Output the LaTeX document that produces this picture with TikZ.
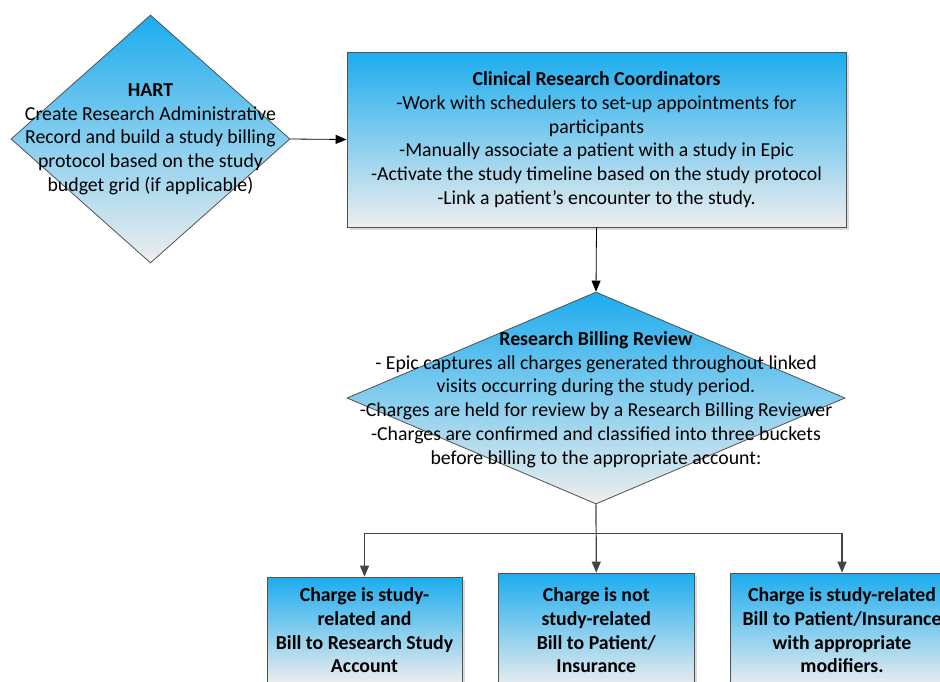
\documentclass[tikz,border=0pt]{standalone}
\usepackage{fontspec}
\setmainfont{Carlito}
\usetikzlibrary{arrows.meta,positioning,shapes.geometric,shadows}

\definecolor{topblue}{RGB}{28,172,238}
\definecolor{lowgray}{RGB}{238,238,238}
\definecolor{edgegray}{RGB}{80,80,80}
\definecolor{linegray}{RGB}{68,68,68}
\newcommand{\txtsize}{\fontsize{19.8}{23.7}\selectfont}

\begin{document}
\begin{tikzpicture}[
  x=1pt, y=-1pt,
  grad/.style={top color=topblue, bottom color=lowgray, draw=edgegray, line width=0.8pt},
  box/.style={grad, rectangle, align=center, inner sep=2pt, font=\txtsize, drop shadow={shadow xshift=2.5pt, shadow yshift=-2.5pt, fill=black!14, opacity=1}},
  dia/.style={grad, diamond, inner sep=0pt},
  txt/.style={align=center, font=\txtsize, inner sep=0pt},
  arr/.style={-{Triangle[length=11pt,width=9pt]}, line width=0.8pt},
  arrg/.style={arr, draw=linegray, line width=1.2pt}
]
\useasboundingbox (0,0) rectangle (940,681);
\clip (0,0) rectangle (940,681);
\fill[white] (0,0) rectangle (940,681);

\node[dia, minimum width=279pt, minimum height=248pt] (hart) at (150.5,139) {};
\node[txt] (hartlbl) at (hart) {\textbf{HART}\\Create Research Administrative\\Record and build a study billing\\protocol based on the study\\budget grid (if applicable)};

\node[box, minimum width=499pt, minimum height=175pt] (crc) at (596.5,139.5) {\textbf{Clinical Research Coordinators}\\-Work with schedulers to set-up appointments for\\participants\\-Manually associate a patient with a study in Epic\\-Activate the study timeline based on the study protocol\\-Link a patient’s encounter to the study.};

\node[dia, minimum width=498pt, minimum height=212pt] (rbr) at (596,398) {};
\node[txt] (rbrlbl) at (596,399.5) {\textbf{Research Billing Review}\\- Epic captures all charges generated throughout linked\\visits occurring during the study period.\\-Charges are held for review by a Research Billing Reviewer\\-Charges are confirmed and classified into three buckets\\before billing to the appropriate account:};

\node[box, font=\txtsize\bfseries, minimum width=195pt, minimum height=107pt] (study) at (364.5,630.5) {Charge is study-\\related and\\Bill to Research Study\\Account};
\node[box, font=\txtsize\bfseries, minimum width=196pt, minimum height=115pt] (notstudy) at (596.3,630.5) {Charge is not\\study-related\\Bill to Patient/\\Insurance};
\node[box, font=\txtsize\bfseries, minimum width=224pt, minimum height=115pt] (modif) at (842,630.5) {Charge is study-related\\Bill to Patient/Insurance\\with appropriate\\modifiers.};

\coordinate (split) at (596,533.7);

\draw[arr] (hart.east) -- (crc.west);
\draw[arr] (crc.south) -- (rbr.north);
\draw[arrg] (rbr.south) -- (notstudy.north);
\draw[arrg] (split) -| (study.north);
\draw[arrg] (split) -| (modif.north);
\end{tikzpicture}
\end{document}
